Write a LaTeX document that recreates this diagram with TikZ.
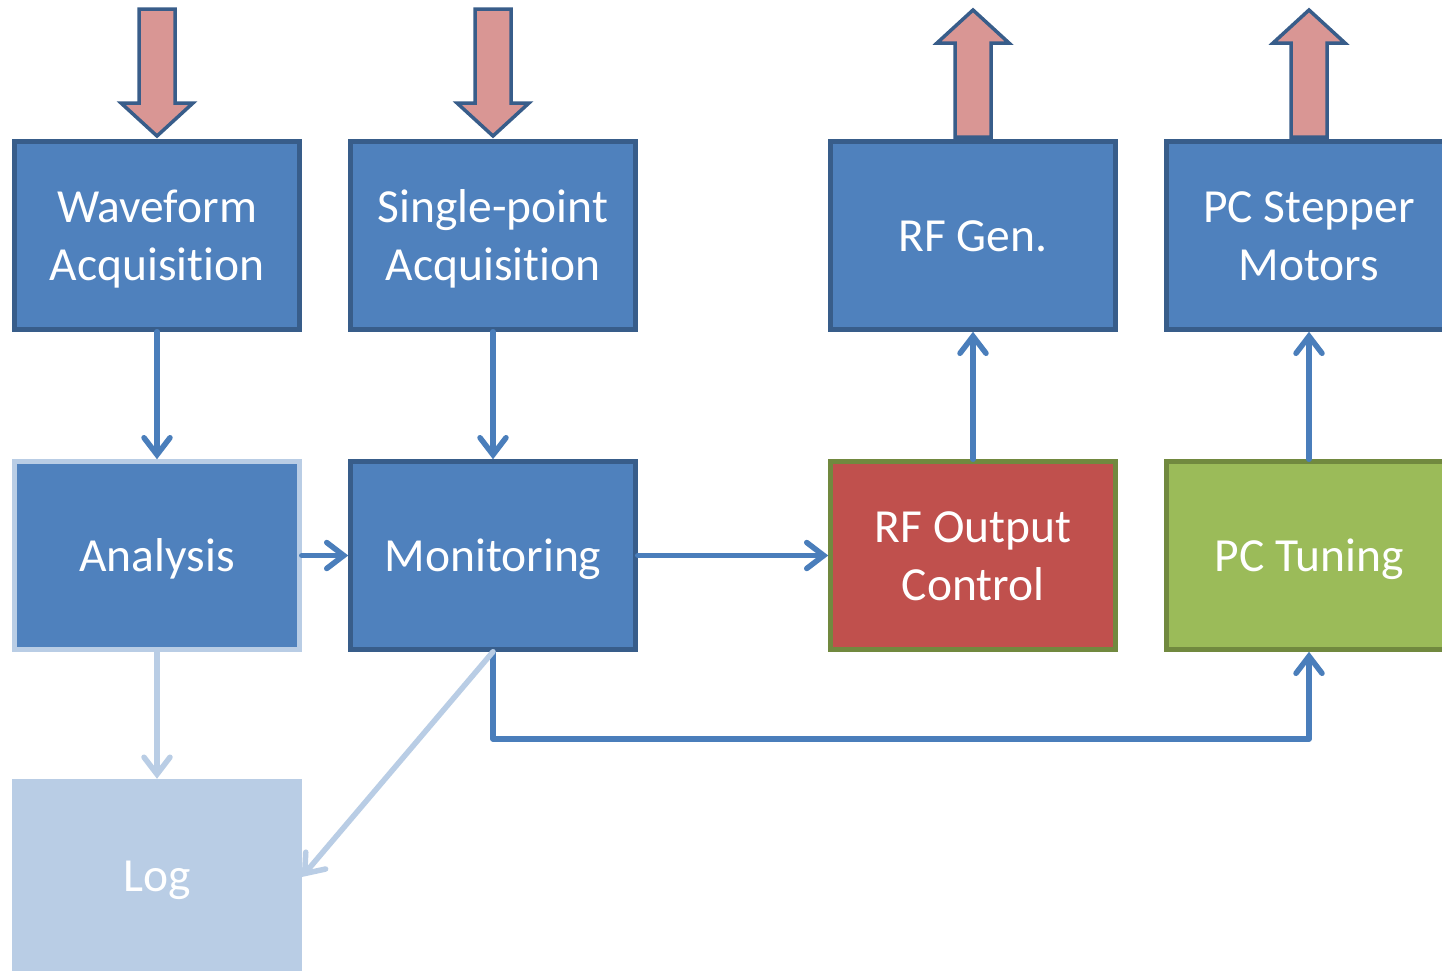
\documentclass[tikz,border=0pt]{standalone}
\usepackage{fontspec}
\setmainfont{Carlito}[Ligatures=NoCommon]
\usetikzlibrary{arrows.meta}
\definecolor{boxblue}{HTML}{4F81BD}
\definecolor{linkblue}{HTML}{4A7EBB}
\definecolor{boxedge}{HTML}{385D8A}
\definecolor{lightblue}{HTML}{B9CDE5}
\definecolor{redfill}{HTML}{C0504D}
\definecolor{greenfill}{HTML}{9BBB59}
\definecolor{greenedge}{HTML}{71893F}
\definecolor{pinkfill}{HTML}{D99694}
\newcommand\btext[1]{\raisebox{-4.5pt}[\height][\depth]{\begin{tabular}{@{}c@{}}#1\end{tabular}}}
\tikzset{
  blk/.style={rectangle, minimum width=285pt, minimum height=188pt, line width=4.5pt,
    text=white, align=center, font=\fontsize{47.5}{58}\selectfont, inner sep=0pt},
  bluebox/.style={blk, fill=boxblue, draw=boxedge},
  conn/.style={draw=linkblue, line width=5.5pt, line cap=round, line join=round,
    -{Straight Barb[length=17pt,width=26pt,line cap=round]}},
  lightconn/.style={conn, draw=lightblue},
  bigarrow/.style={fill=pinkfill, draw=boxedge, line width=3.5pt, line join=miter}
}
\begin{document}
\begin{tikzpicture}[x=1pt,y=-1pt]
\clip (0,0) rectangle (1442,970);
\fill[white] (0,0) rectangle (1442,970);
% block arrows (down)
\foreach \cx in {157,493}{
  \draw[bigarrow] (\cx-18,9) -- (\cx+18,9) -- (\cx+18,103) -- (\cx+36,103) -- (\cx,136)
    -- (\cx-36,103) -- (\cx-18,103) -- cycle;
}
% block arrows (up)
\foreach \cx in {973,1309}{
  \draw[bigarrow] (\cx-18,137) -- (\cx-18,43) -- (\cx-36,43) -- (\cx,10) -- (\cx+36,43)
    -- (\cx+18,43) -- (\cx+18,137) -- cycle;
}
% boxes
\node[bluebox] (wave) at (157,235.5) {\btext{Waveform\\Acquisition}};
\node[bluebox] (single) at (493,235.5) {\btext{Single-point\\Acquisition}};
\node[bluebox] (rfgen) at (973,235.5) {\btext{RF Gen.}};
\node[bluebox] (stepper) at (1309,235.5) {\btext{PC Stepper\\Motors}};
\node[blk, fill=boxblue, draw=lightblue] (analysis) at (157,555.5) {\btext{Analysis}};
\node[bluebox] (monitor) at (493,555.5) {\btext{Monitoring}};
\node[blk, fill=redfill, draw=greenedge] (rfout) at (973,555.5) {\btext{RF Output\\Control}};
\node[blk, fill=greenfill, draw=greenedge] (pctune) at (1309,555.5) {\btext{PC Tuning}};
\node[blk, fill=lightblue, draw=lightblue] (log) at (157,875) {\btext{Log}};
% connectors
\draw[conn] (wave.south) -- (analysis.north);
\draw[conn] (single.south) -- (monitor.north);
\draw[conn] (analysis.east) -- (monitor.west);
\draw[conn] (monitor.east) -- (rfout.west);
\draw[conn] (rfout.north) -- (rfgen.south);
\draw[conn] (pctune.north) -- (stepper.south);
\coordinate (c1) at (493,739);
\coordinate (c2) at (1309,739);
\draw[conn] (monitor.south) -- (c1) -- (c2) -- (pctune.south);
\draw[lightconn] (analysis.south) -- (log.north);
\draw[lightconn] (monitor.south) -- ([yshift=-2pt]log.east);
\end{tikzpicture}
\end{document}
